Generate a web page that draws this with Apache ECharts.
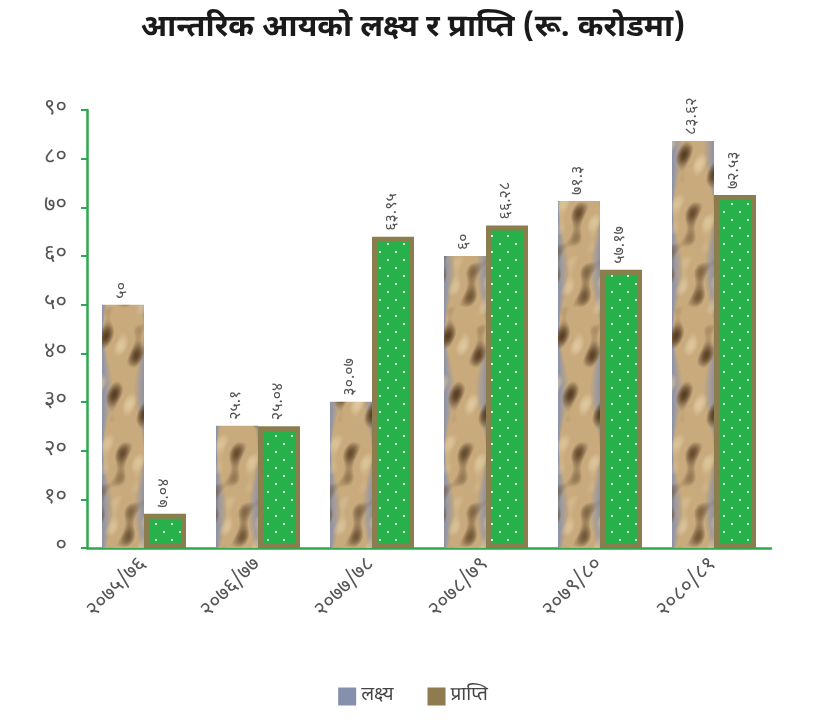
<!DOCTYPE html>
<html>
<head>
<meta charset="utf-8">
<script src="https://cdn.jsdelivr.net/npm/echarts@6/dist/echarts.min.js"></script>
<style>
  html, body { margin: 0; padding: 0; background: #fff; }
  #main { width: 826px; height: 725px; }
</style>
</head>
<body>
<div id="main"></div>
<script>
const categories = ['२०७५/७६', '२०७६/७७', '२०७७/७८', '२०७८/७९', '२०७९/८०', '२०८०/८१'];
const targetValues = [50, 25.1, 30.07, 60, 71.3, 83.62];
const actualValues = [7.04, 25.04, 63.95, 66.28, 57.17, 72.53];
const seriesNames = ['लक्ष्य', 'प्राप्ति'];

const devDigits = ['०', '१', '२', '३', '४', '५', '६', '७', '८', '९'];
function toDev(v) {
    return String(v).replace(/[0-9]/g, d => devDigits[+d]);
}

const FONT = '"Noto Sans Devanagari", "Noto Sans", sans-serif';
const GREEN = '#2fa84f';

// stone-like texture for target bars (band wide so every bar gets the same look)
function stoneTexture() {
    const w = 114, h = 240, off = 102;
    const k = Math.PI * 2 / h; // keep vertical waves periodic over the tile
    const c = document.createElement('canvas');
    c.width = w; c.height = h;
    const ctx = c.getContext('2d');
    const img = ctx.createImageData(w, h);
    for (let y = 0; y < h; y++) {
        for (let x = 0; x < w; x++) {
            const u = ((x - off) % w + w) % w; // position inside bar
            let r = 200, g = 170, b = 125;
            // gray-blue edges
            const edge = Math.max(0, 1 - Math.min(u, 42 - u) / (6 + 5 * Math.sin(y * k * 2)));
            r = r * (1 - edge) + 140 * edge;
            g = g * (1 - edge) + 146 * edge;
            b = b * (1 - edge) + 168 * edge;
            // dark streaks
            const s = Math.sin(y * k * 3 + u * 0.16) + 0.7 * Math.sin(y * k - u * 0.22) + 0.5 * Math.sin(y * k * 8 + u * 0.07);
            const dark = Math.max(0, (s - 0.6) / 1.4);
            r = r * (1 - dark) + 100 * dark;
            g = g * (1 - dark) + 74 * dark;
            b = b * (1 - dark) + 45 * dark;
            const lite = Math.max(0, (-s - 0.9) / 1.0) * 0.55;
            r = r * (1 - lite) + 232 * lite;
            g = g * (1 - lite) + 212 * lite;
            b = b * (1 - lite) + 172 * lite;
            const i = (y * w + x) * 4;
            img.data[i] = r; img.data[i + 1] = g; img.data[i + 2] = b; img.data[i + 3] = 255;
        }
    }
    ctx.putImageData(img, 0, 0);
    return c;
}

// green with white dots for actual bars
function dotTexture() {
    const c = document.createElement('canvas');
    c.width = 16; c.height = 16;
    const ctx = c.getContext('2d');
    ctx.fillStyle = '#27b14b';
    ctx.fillRect(0, 0, 16, 16);
    ctx.fillStyle = '#e8f5d8';
    ctx.fillRect(3, 3, 2, 2);
    ctx.fillRect(11, 11, 2, 2);
    return c;
}

var myChart = echarts.init(document.getElementById('main'));
myChart.setOption({
    title: {
        text: 'आन्तरिक आयको लक्ष्य र प्राप्ति (रू. करोडमा)',
        left: 'center',
        top: 10,
        textStyle: { fontFamily: FONT, fontSize: 31, fontWeight: 'bold', color: '#1a1a1a' }
    },
    legend: {
        bottom: 14,
        left: 'center',
        itemWidth: 18,
        itemHeight: 18,
        itemGap: 34,
        textStyle: { fontFamily: FONT, fontSize: 19, color: '#444' },
        data: [
            { name: seriesNames[0], icon: 'rect', itemStyle: { color: '#8490ac', borderWidth: 0 } },
            { name: seriesNames[1], icon: 'rect', itemStyle: { color: '#8e7b4f', borderWidth: 0 } }
        ]
    },
    grid: {
        left: 87,
        right: 55,
        top: 110,
        bottom: 177
    },
    xAxis: {
        type: 'category',
        data: categories,
        axisLine: { lineStyle: { color: GREEN, width: 2.5 } },
        axisTick: { alignWithLabel: true, length: 6, lineStyle: { color: GREEN, width: 2 } },
        axisLabel: { rotate: 45, fontFamily: FONT, fontSize: 21, color: '#555', margin: 14 },
        splitLine: { show: false }
    },
    yAxis: {
        type: 'value',
        min: 0,
        max: 90,
        interval: 10,
        axisLine: { show: true, lineStyle: { color: GREEN, width: 2.5 } },
        axisTick: { show: true, length: 6, lineStyle: { color: GREEN, width: 2 } },
        axisLabel: { fontFamily: FONT, fontSize: 22, color: '#555', margin: 20, formatter: v => toDev(v) },
        splitLine: { show: false }
    },
    series: [
        {
            name: seriesNames[0],
            type: 'bar',
            data: targetValues,
            barWidth: 42,
            barGap: '0%',
            itemStyle: { color: { image: stoneTexture(), repeat: 'repeat' } },
            label: {
                show: true, position: 'top', rotate: 90, align: 'left', verticalAlign: 'middle',
                distance: 6, fontFamily: FONT, fontSize: 16, color: '#555',
                formatter: p => toDev(p.value)
            }
        },
        {
            name: seriesNames[1],
            type: 'bar',
            data: actualValues,
            barWidth: 42,
            itemStyle: { color: { image: dotTexture(), repeat: 'repeat' }, borderColor: '#8c7d4e', borderWidth: 5 },
            label: {
                show: true, position: 'top', rotate: 90, align: 'left', verticalAlign: 'middle',
                distance: 6, fontFamily: FONT, fontSize: 16, color: '#555',
                formatter: p => toDev(p.value)
            }
        }
    ]
});
</script>
</body>
</html>
